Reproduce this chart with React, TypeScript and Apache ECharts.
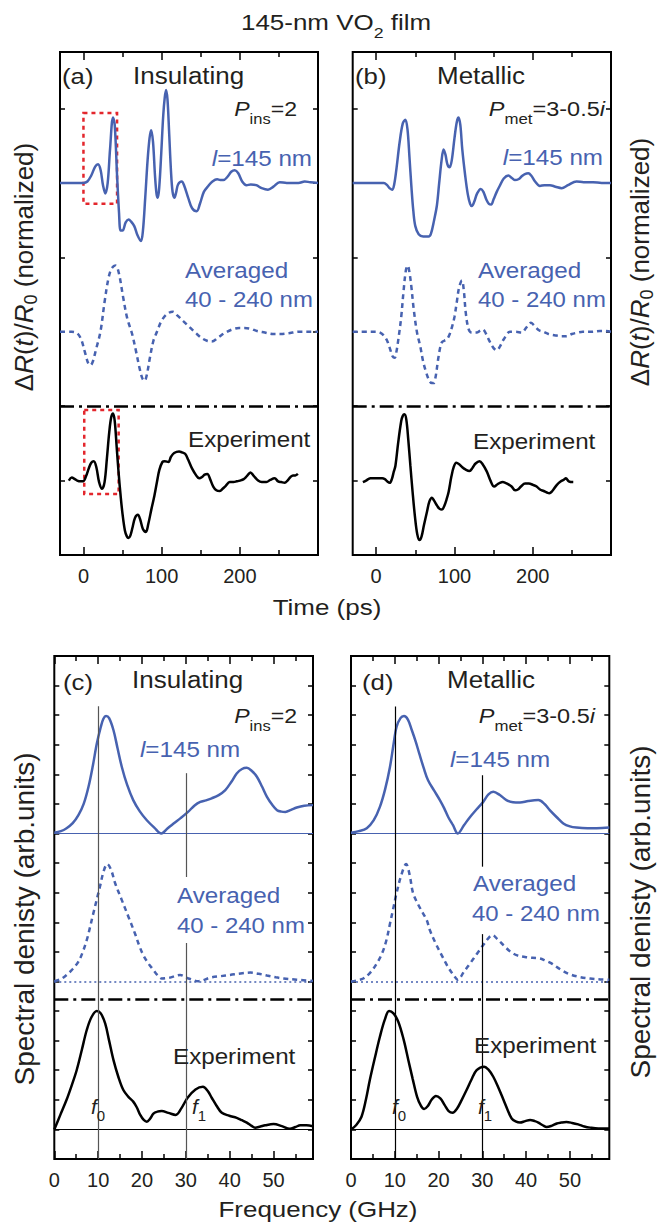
import React, { useEffect, useRef } from 'react';
import * as echarts from 'echarts';

const FONT = "'Liberation Sans', Arial, Helvetica, sans-serif";
const BLUE = '#4762b0';
const RED = '#e3262c';
const INK = '#231f20';

// ---- axes / ticks ----
const timeRange = [-30, 300];
const freqRange = [0, 59];
const timeMajor = [0, 100, 200];
const timeMinor = [50, 150, 250];
const freqMajor = [0, 10, 20, 30, 40, 50];
const freqMinor = [5, 15, 25, 35, 45, 55];
const timeYMax = 6.76;
const freqYMax = 17;
const timeYTicks = [1, 2, 3, 4, 5, 6];
const freqYTicks = [1, 2, 3, 4, 5, 6, 7, 8, 9, 10, 11, 12, 13, 14, 15, 16];
const timeSeparator = 2;
const freqSeparator = 5.4;
const freqBaselines = [11, 6, 1];

// ---- (a) Insulating, time domain ----
const aSim = [[-30,5.0],[-15,5.0],[0,5.0],[5,5.02],[10,5.1],[15,5.22],[18.7,5.25],[22,5.17],[25,4.97],[28,4.86],[31,5.0],[34,5.45],[37.8,5.88],[40,5.78],[43,5.1],[45.5,4.6],[47.5,4.36],[50,4.36],[54,4.47],[57.7,4.51],[61,4.48],[65,4.42],[69,4.3],[73.5,4.22],[76,4.35],[79,4.8],[82,5.3],[84.5,5.6],[86.6,5.71],[89,5.55],[91.5,5.1],[93.5,4.85],[95.1,4.8],[97,4.95],[99.5,5.4],[102,5.9],[104,6.15],[105.7,6.25],[107.5,6.12],[109.5,5.7],[112,5.15],[114,4.88],[116.3,4.8],[118.5,4.87],[121,4.98],[125.7,5.02],[129,4.96],[134,4.8],[139,4.66],[144.8,4.62],[149,4.72],[154,4.88],[159.7,4.96],[165,5.02],[171,5.05],[175,5.04],[179,5.04],[184,5.08],[189,5.15],[193.6,5.17],[198,5.13],[203,5.02],[208.5,4.97],[214,4.98],[221,4.97],[228,4.93],[236,4.91],[243,4.95],[251,5.01],[260,5.0],[268,5.0],[275,5.0],[283,5.02],[290,5.01],[300,5.0]];
const aAvg = [[-30,3.0],[-15,3.0],[-8,2.98],[-3,2.9],[2,2.72],[6,2.58],[8.9,2.55],[12,2.6],[16,2.76],[21.7,3.0],[27,3.4],[32,3.72],[36,3.85],[40.8,3.89],[45,3.8],[51,3.45],[56,3.18],[62,2.98],[67,2.75],[72,2.5],[75.5,2.37],[78.1,2.34],[81,2.42],[85,2.65],[89.5,2.88],[94,3.0],[100,3.15],[107,3.24],[114.2,3.27],[120,3.22],[128,3.14],[136,3.06],[144,2.98],[152,2.91],[158,2.88],[164,2.87],[172,2.92],[180,2.98],[190,3.03],[199,3.05],[206,3.05],[214,3.04],[222,3.01],[232,2.99],[242,2.97],[252,2.97],[262,2.98],[276,3.0],[290,3.0],[300,3.0]];
const aExp = [[-18.7,1.0],[-15,1.04],[-11,1.02],[-8,1.0],[-4,0.99],[-0.5,0.99],[3,1.05],[7,1.17],[10,1.24],[13.2,1.26],[16.5,1.18],[20,0.98],[23.8,0.89],[27,0.98],[30,1.3],[33,1.65],[35.5,1.85],[37.8,1.9],[40,1.8],[42.5,1.45],[45,1.1],[47.5,0.8],[50,0.55],[53,0.33],[55.5,0.25],[57.7,0.23],[60,0.26],[63,0.38],[66,0.5],[69.6,0.54],[72.5,0.48],[76,0.35],[79.8,0.31],[83,0.42],[87,0.62],[90.8,0.8],[94,0.98],[97,1.14],[101,1.25],[104,1.26],[108.6,1.25],[112,1.32],[116,1.37],[122.3,1.39],[126,1.38],[130,1.36],[134,1.28],[139,1.16],[144.8,1.06],[148,1.03],[152,1.05],[155,1.08],[158.4,1.09],[162,1.02],[166,0.92],[170,0.87],[174.5,0.86],[178,0.89],[182,0.93],[187,0.98],[192,0.98],[196,0.99],[200,1.0],[205,1.02],[209,1.06],[213.6,1.11],[218,1.06],[223.4,1.0],[228,0.98],[234,0.98],[239,1.01],[244.6,1.03],[249,0.99],[253,0.98],[257.4,0.97],[261,1.0],[265,1.05],[268,1.07],[271,1.07],[274.3,1.09]];
const aBoxes = [[[0, 5.94], [43, 4.72]], [[1, 1.95], [45, 0.82]]];

// ---- (b) Metallic, time domain ----
const bSim = [[-30,5.0],[0,5.0],[9.7,5.0],[14,4.97],[17,4.93],[20.3,4.91],[23,4.98],[26,5.2],[30,5.55],[34,5.8],[37.3,5.85],[40,5.72],[42.5,5.35],[45,4.95],[47.5,4.62],[50,4.42],[54.3,4.31],[60,4.28],[64,4.28],[67,4.28],[70,4.32],[74,4.5],[77.6,4.7],[80.5,5.0],[83.5,5.3],[86.1,5.45],[88.5,5.38],[91,5.25],[93.8,5.21],[96.5,5.3],[100,5.6],[103,5.82],[105.2,5.88],[107.5,5.78],[110,5.45],[113.7,5.1],[117,4.85],[120,4.72],[122.2,4.69],[125,4.74],[129,4.86],[133.7,4.92],[137,4.88],[141,4.77],[144,4.72],[146.9,4.71],[150,4.78],[154,4.88],[158.3,4.97],[163,5.06],[168.9,5.1],[173,5.07],[177,5.04],[181.7,5.05],[186,5.09],[190,5.12],[194.4,5.13],[198,5.1],[203,5.02],[209.2,4.96],[215,4.97],[222,4.97],[229,4.95],[237,4.93],[245,4.97],[256,5.02],[265,5.01],[277,5.01],[288,5.0],[300,5.0]];
const bAvg = [[-30,3.0],[-10,3.0],[0,3.0],[5,2.99],[9.7,2.95],[14,2.88],[18,2.76],[21,2.67],[23.7,2.65],[26,2.74],[29,2.95],[32,3.2],[35,3.55],[38,3.83],[40.3,3.89],[42.5,3.8],[45,3.6],[48,3.3],[52,3.0],[56.4,2.8],[60,2.6],[64,2.45],[68,2.34],[71,2.31],[73.4,2.31],[76,2.4],[79,2.62],[82,2.8],[84,2.86],[87,2.88],[90.4,2.9],[94,2.97],[97,3.07],[100,3.2],[103,3.4],[106,3.6],[109.6,3.69],[112,3.55],[114.5,3.25],[118,3.04],[122,2.99],[128.6,2.99],[132,3.01],[136.3,3.03],[140,2.98],[145,2.87],[150,2.78],[154,2.75],[158,2.8],[163,2.9],[171,3.0],[178,3.0],[186,2.99],[192,3.06],[197.8,3.12],[203,3.07],[208,3.02],[213.5,3.0],[220,2.97],[230,2.95],[237,2.94],[243,2.94],[250,2.97],[258,2.99],[264,3.0],[275,3.0],[285.7,3.01],[292,3.01],[300,3.0]];
const bExp = [[-17,0.98],[-13,1.0],[-10,1.02],[-7.3,1.03],[-3,1.03],[3,1.03],[7.6,1.03],[11,1.02],[14,0.99],[17.3,0.97],[20,1.02],[22.5,1.12],[24.6,1.2],[28,1.5],[32,1.8],[34,1.87],[36.1,1.89],[38.5,1.82],[41,1.55],[43.7,1.2],[46.5,0.85],[49.5,0.52],[52.5,0.28],[55.5,0.2],[58,0.25],[61,0.4],[64.9,0.58],[68,0.72],[71.3,0.77],[74,0.73],[78,0.66],[81,0.62],[84.1,0.61],[87,0.66],[90,0.75],[92.6,0.85],[96,1.05],[99,1.18],[102.3,1.24],[106,1.22],[110,1.18],[114,1.15],[119.2,1.13],[123,1.17],[127,1.23],[132,1.26],[136,1.22],[141.4,1.12],[146,1.0],[150.7,0.92],[155,0.95],[158,0.97],[161.8,0.98],[165,0.97],[169,0.95],[173,0.92],[177.5,0.87],[181,0.88],[185,0.92],[190.2,0.96],[195,0.96],[200.8,0.94],[205,0.92],[209.3,0.88],[214,0.86],[218,0.84],[221.2,0.83],[225,0.86],[230.6,0.94],[236,0.99],[239.5,1.01],[242.4,1.03],[246,0.99],[251.8,0.98]];

// ---- (c) Insulating, spectra ----
const cSim = [[0,11.03],[1.5,11.08],[2.8,11.18],[4.2,11.35],[5.5,11.62],[6.7,12.0],[7.8,12.58],[8.8,13.3],[9.7,14.04],[10.6,14.6],[11.2,14.88],[11.8,14.97],[12.5,14.9],[13.5,14.49],[14.4,13.9],[15.4,13.25],[16.6,12.65],[18.0,12.13],[19.5,11.75],[21.1,11.45],[22.8,11.2],[24.4,11.0],[25.8,11.17],[27.2,11.34],[28.8,11.52],[30.5,11.73],[32,11.95],[33.3,12.07],[34.6,12.12],[35.9,12.19],[37.5,12.3],[39.0,12.47],[40.4,12.75],[41.6,13.03],[42.8,13.18],[43.9,13.22],[45,13.12],[46.2,12.92],[47.4,12.58],[48.5,12.24],[49.7,11.97],[50.8,11.79],[51.8,11.74],[52.7,11.73],[54,11.8],[55.3,11.88],[57,11.94],[59,11.96]];
const cAvg = [[0,6.01],[1.5,6.08],[2.8,6.22],[4.2,6.42],[5.5,6.67],[6.5,7.0],[7.4,7.4],[7.8,7.62],[8.9,8.3],[10.4,9.2],[11.3,9.75],[12.1,9.97],[13,9.75],[13.9,9.31],[15.4,8.75],[16.9,8.19],[18.4,7.62],[19.4,7.2],[20.3,6.89],[21.5,6.6],[22.6,6.39],[23.5,6.22],[24.5,6.1],[26.4,6.13],[28.7,6.22],[30.6,6.1],[32.9,6.01],[35.6,6.13],[38,6.18],[40.1,6.22],[42.5,6.27],[44.7,6.3],[46.6,6.26],[48.5,6.2],[50.5,6.14],[52.3,6.1],[55.3,6.06],[59,6.02]];
const cExp = [[0,1.0],[1.4,1.5],[2.8,2.0],[4,2.5],[5.1,3.0],[6.3,3.7],[7.4,4.36],[8.5,4.8],[9.7,5.0],[10.6,4.92],[11.6,4.58],[12.5,4.0],[13.5,3.34],[14.6,2.78],[15.75,2.33],[16.9,2.1],[18.0,1.94],[18.8,1.75],[19.6,1.49],[20.4,1.32],[21.1,1.26],[21.8,1.35],[22.6,1.53],[23.5,1.6],[24.5,1.62],[26.0,1.56],[27.7,1.49],[29,1.72],[30.4,2.07],[32.2,2.35],[33.9,2.44],[35,2.3],[35.9,2.07],[37,1.8],[38.2,1.56],[39.9,1.46],[41.6,1.39],[42.8,1.31],[43.9,1.23],[45,1.12],[45.8,1.06],[47,1.1],[48.1,1.14],[50.0,1.18],[51.9,1.11],[53.7,1.02],[55,1.08],[56.1,1.14],[57.5,1.14],[59,1.11]];
const cMarks = [[10, 15.3, 0], [30, 13.04, 9.53], [30, 7.3, 0]];

// ---- (d) Metallic, spectra ----
const dSim = [[0,11.03],[1.8,11.08],[3.6,11.18],[5.2,11.45],[6.6,11.9],[7.8,12.5],[8.9,13.25],[9.7,14.0],[10.4,14.6],[11.3,14.9],[12.1,14.97],[13,14.85],[13.9,14.49],[14.8,14.1],[15.6,13.7],[16.6,13.22],[17.6,12.8],[19,12.45],[20.3,12.13],[21.3,11.85],[22.2,11.56],[23.3,11.28],[24.4,11.0],[25.8,11.28],[27.2,11.56],[28.7,11.82],[30.2,12.07],[31.4,12.32],[32.5,12.41],[34,12.3],[35.5,12.13],[37,12.06],[38.6,12.05],[40.5,12.1],[42.8,12.13],[44.2,12.0],[45.4,11.79],[47,11.55],[48.5,11.34],[50,11.24],[51.5,11.2],[54,11.18],[56.1,11.18],[59,11.2]];
const dAvg = [[0,6.0],[1.5,6.04],[2.8,6.1],[4.4,6.3],[5.9,6.61],[7.1,6.95],[8.1,7.4],[8.9,7.95],[9.7,8.5],[10.4,8.98],[11.5,9.6],[12.6,9.97],[13.4,9.6],[14.2,8.98],[15.7,8.5],[17.3,8.07],[18.0,7.74],[19.3,7.3],[20.7,6.89],[22.2,6.48],[23.4,6.22],[24.4,6.06],[25.8,6.33],[27.2,6.61],[28.7,6.92],[30.2,7.23],[31.3,7.45],[32.3,7.57],[33.5,7.42],[34.8,7.23],[36.3,7.02],[37.8,6.89],[40,6.82],[43.1,6.78],[44.5,6.7],[45.8,6.61],[47.9,6.4],[50.0,6.24],[52.3,6.15],[54.6,6.1],[57,6.07],[59,6.06]];
const dExp = [[0,1.0],[1.2,1.15],[2.4,1.43],[3.4,2.0],[4.3,2.67],[5.5,3.45],[6.6,4.13],[7.7,4.7],[8.7,5.0],[9.7,4.92],[10.8,4.64],[12,4.05],[13.1,3.34],[14.1,2.7],[15.1,2.1],[15.9,1.82],[16.7,1.69],[17.5,1.78],[18.4,2.0],[19.4,2.13],[20.4,2.05],[21.4,1.82],[22.3,1.62],[23.2,1.56],[24.2,1.7],[25.3,2.0],[26.4,2.33],[27.5,2.68],[28.7,3.0],[30.4,3.12],[31.4,3.02],[32.5,2.78],[33.7,2.4],[34.8,2.01],[35.8,1.65],[36.7,1.37],[37.6,1.27],[38.6,1.23],[39.8,1.28],[40.9,1.32],[42,1.28],[42.8,1.23],[43.8,1.14],[44.7,1.08],[45.8,1.12],[47.0,1.2],[48,1.23],[49.2,1.25],[50.5,1.22],[51.9,1.17],[53.3,1.1],[54.6,1.06],[56.5,1.03],[59,1.03]];
const dMarks = [[10, 15.29, 0], [30, 12.97, 9.88], [30, 7.6, 0]];

// ---------- layout ----------
const GRIDS = [
  { left: 60, top: 52, width: 258, height: 503 },
  { left: 352.7, top: 52, width: 258.3, height: 503 },
  { left: 54.3, top: 656, width: 258.7, height: 503 },
  { left: 351, top: 656, width: 258.3, height: 503 },
];

function xAxesFor(g: number, range: number[], major: number[], minor: number[]) {
  const base = {
    gridIndex: g, type: 'value', min: range[0], max: range[1],
    splitLine: { show: false }, axisLine: { show: false, onZero: false },
    silent: true,
  };
  const tick = (vals: number[], len: number) => ({
    show: true, inside: true, length: len, customValues: vals,
    lineStyle: { color: '#000', width: 1.5 },
  });
  return [
    { ...base, position: 'bottom', axisTick: tick(major, 8),
      axisLabel: { show: true, customValues: major, margin: 11, fontSize: 20, color: INK, fontFamily: FONT } },
    { ...base, position: 'bottom', axisTick: tick(minor, 5), axisLabel: { show: false } },
    { ...base, position: 'top', axisTick: tick(major, 8), axisLabel: { show: false } },
    { ...base, position: 'top', axisTick: tick(minor, 5), axisLabel: { show: false } },
  ];
}

function yAxesFor(g: number, max: number, ticks: number[]) {
  const base = {
    gridIndex: g, type: 'value', min: 0, max,
    splitLine: { show: false }, axisLine: { show: false, onZero: false },
    axisLabel: { show: false }, silent: true,
    axisTick: { show: true, inside: true, length: 5, customValues: ticks, lineStyle: { color: '#000', width: 1.5 } },
  };
  return [{ ...base, position: 'left' }, { ...base, position: 'right' }];
}

function line(g: number, data: number[][], color: string, type: any, extra: any = {}) {
  return {
    type: 'line', xAxisIndex: 4 * g, yAxisIndex: 2 * g, data,
    showSymbol: false, symbol: 'none', smooth: 0.35, silent: true, z: 3,
    lineStyle: { color, width: 2.5, type },
    ...extra,
  };
}

const DASHDOT = { color: '#000', width: 2.5, type: [14, 5, 3, 5] };

function markLineOf(items: any[]) {
  return { silent: true, symbol: ['none', 'none'], label: { show: false }, animation: false, data: items };
}

function freqMarkItems(marks: number[][], fColor: string) {
  const items: any[] = [
    { yAxis: freqSeparator, lineStyle: DASHDOT },
    { yAxis: freqBaselines[0], lineStyle: { color: BLUE, width: 1.2, type: 'solid' } },
    { yAxis: freqBaselines[1], lineStyle: { color: BLUE, width: 1.5, type: [2, 3] } },
    { yAxis: freqBaselines[2], lineStyle: { color: '#000', width: 1.2, type: 'solid' } },
  ];
  marks.forEach(([f, y1, y2]) => {
    items.push([{ coord: [f, y1], lineStyle: { color: fColor, width: 1.2, type: 'solid' } }, { coord: [f, y2] }]);
  });
  return items;
}

function txt(x: number, y: number, text: string, o: any = {}) {
  const fs = o.fs ?? 22;
  const fill = o.fill ?? INK;
  const L = o.L ?? Math.round(fs * 1.62);
  const subFs = o.subFs ?? Math.round(fs * 0.7);
  const align = o.align ?? 'left';
  return {
    type: 'text', x, y, scaleX: o.sx ?? 1, rotation: o.rot ?? 0, silent: true, z: 20,
    style: {
      text, fill, fontSize: fs, fontFamily: FONT, lineHeight: L,
      align, verticalAlign: 'middle', textAlign: align, textVerticalAlign: 'middle',
      rich: {
        it: { fontStyle: 'italic', fontSize: fs, fontFamily: FONT, fill, lineHeight: L },
        sub: { fontSize: subFs, fontFamily: FONT, fill, lineHeight: subFs, verticalAlign: 'bottom' },
      },
    },
  };
}

function buildOption() {
  const xAxis = [
    ...xAxesFor(0, timeRange, timeMajor, timeMinor),
    ...xAxesFor(1, timeRange, timeMajor, timeMinor),
    ...xAxesFor(2, freqRange, freqMajor, freqMinor),
    ...xAxesFor(3, freqRange, freqMajor, freqMinor),
  ];
  const yAxis = [
    ...yAxesFor(0, timeYMax, timeYTicks),
    ...yAxesFor(1, timeYMax, timeYTicks),
    ...yAxesFor(2, freqYMax, freqYTicks),
    ...yAxesFor(3, freqYMax, freqYTicks),
  ];
  const boxStyle = { color: 'rgba(0,0,0,0)', borderColor: RED, borderWidth: 2.5, borderType: [4, 4] };
  const series = [
    line(0, aSim, BLUE, 'solid', { markArea: { silent: true, itemStyle: boxStyle, data: [[{ coord: aBoxes[0][0] }, { coord: aBoxes[0][1] }]] } }),
    line(0, aAvg, BLUE, [5, 4]),
    line(0, aExp, '#000', 'solid', {
      markLine: markLineOf([{ yAxis: timeSeparator, lineStyle: DASHDOT }]),
      markArea: { silent: true, itemStyle: boxStyle, data: [[{ coord: aBoxes[1][0] }, { coord: aBoxes[1][1] }]] },
    }),
    line(1, bSim, BLUE, 'solid'),
    line(1, bAvg, BLUE, [5, 4]),
    line(1, bExp, '#000', 'solid', { markLine: markLineOf([{ yAxis: timeSeparator, lineStyle: DASHDOT }]) }),
    line(2, cSim, BLUE, 'solid'),
    line(2, cAvg, BLUE, [5, 4]),
    line(2, cExp, '#000', 'solid', { markLine: markLineOf(freqMarkItems(cMarks, '#555')) }),
    line(3, dSim, BLUE, 'solid'),
    line(3, dAvg, BLUE, [5, 4]),
    line(3, dExp, '#000', 'solid', { markLine: markLineOf(freqMarkItems(dMarks, '#000')) }),
  ];

  const SX = 1.12;
  const Pins = '{it|P}{sub|ins}=2';
  const Pmet = '{it|P}{sub|met}=3-0.5{it|i}';
  const L145 = '{it|l}=145 nm';
  const dR = '\u0394{it|R}({it|t})/{it|R}{sub|0} (normalized)';
  const SD = 'Spectral denisty (arb.units)';
  const yLab = { fs: 26, align: 'center', rot: Math.PI / 2, L: 32, subFs: 18 };
  const yLab2 = { fs: 28, align: 'center', rot: Math.PI / 2, L: 32 };
  const elements = [
    txt(336, 22, '145-nm VO{sub|2} film', { fs: 22, align: 'center', sx: 1.18 }),
    // (a)
    txt(62, 76, '(a)', { fs: 23, sx: SX }),
    txt(133, 76, 'Insulating', { fs: 23, sx: 1.13 }),
    txt(297, 109, Pins, { fs: 21, align: 'right', sx: 1.1 }),
    txt(312, 158, L145, { fs: 22, align: 'right', fill: BLUE, sx: 1.1 }),
    txt(185, 270, 'Averaged', { fs: 22, fill: BLUE, sx: 1.1 }),
    txt(185, 299, '40 - 240 nm', { fs: 22, fill: BLUE, sx: 1.09 }),
    txt(188, 439, 'Experiment', { fs: 22, sx: 1.1 }),
    // (b)
    txt(355, 76, '(b)', { fs: 23, sx: SX }),
    txt(437, 76, 'Metallic', { fs: 23, sx: 1.13 }),
    txt(605, 109, Pmet, { fs: 21, align: 'right', sx: 1.12 }),
    txt(603, 157, L145, { fs: 22, align: 'right', fill: BLUE, sx: 1.1 }),
    txt(478, 270, 'Averaged', { fs: 22, fill: BLUE, sx: 1.1 }),
    txt(478, 299, '40 - 240 nm', { fs: 22, fill: BLUE, sx: 1.09 }),
    txt(473, 441, 'Experiment', { fs: 22, sx: 1.1 }),
    txt(327, 607, 'Time (ps)', { fs: 22, align: 'center', sx: 1.18 }),
    // (c)
    txt(63, 682, '(c)', { fs: 23, sx: SX }),
    txt(132, 680, 'Insulating', { fs: 23, sx: 1.13 }),
    txt(297, 716, Pins, { fs: 21, align: 'right', sx: 1.1 }),
    txt(140, 749, L145, { fs: 22, fill: BLUE, sx: 1.1 }),
    txt(177, 895, 'Averaged', { fs: 22, fill: BLUE, sx: 1.1 }),
    txt(177, 925, '40 - 240 nm', { fs: 22, fill: BLUE, sx: 1.09 }),
    txt(173, 1056, 'Experiment', { fs: 22, sx: 1.1 }),
    txt(91, 1106, '{it|f}{sub|0}', { fs: 21 }),
    txt(192, 1106, '{it|f}{sub|1}', { fs: 21 }),
    // (d)
    txt(362, 682, '(d)', { fs: 23, sx: SX }),
    txt(447, 680, 'Metallic', { fs: 23, sx: 1.13 }),
    txt(595, 716, Pmet, { fs: 21, align: 'right', sx: 1.12 }),
    txt(450, 759, L145, { fs: 22, fill: BLUE, sx: 1.1 }),
    txt(473, 883, 'Averaged', { fs: 22, fill: BLUE, sx: 1.1 }),
    txt(472, 913, '40 - 240 nm', { fs: 22, fill: BLUE, sx: 1.09 }),
    txt(474, 1045, 'Experiment', { fs: 22, sx: 1.1 }),
    txt(392, 1106, '{it|f}{sub|0}', { fs: 21 }),
    txt(478, 1106, '{it|f}{sub|1}', { fs: 21 }),
    txt(318, 1209, 'Frequency (GHz)', { fs: 22, align: 'center', sx: 1.18 }),
    // y labels
    txt(24, 267, dR, yLab),
    txt(640, 262, dR, yLab),
    txt(24, 919, SD, yLab2),
    txt(640, 912, SD, yLab2),
  ];

  return {
    animation: false,
    backgroundColor: '#ffffff',
    grid: GRIDS.map((g) => ({ ...g, show: true, borderColor: '#000', borderWidth: 2, backgroundColor: 'rgba(0,0,0,0)', containLabel: false })),
    xAxis,
    yAxis,
    series,
    graphic: { elements },
  };
}

export default function App() {
  const ref = useRef<HTMLDivElement>(null);
  useEffect(() => {
    if (!ref.current) return;
    const chart = echarts.init(ref.current, undefined, { renderer: 'svg' });
    chart.setOption(buildOption() as any);
    return () => chart.dispose();
  }, []);
  return (
    <div
      ref={ref}
      style={{ position: 'absolute', left: 0, top: 0, width: 658, height: 1226, background: '#fff' }}
    />
  );
}
